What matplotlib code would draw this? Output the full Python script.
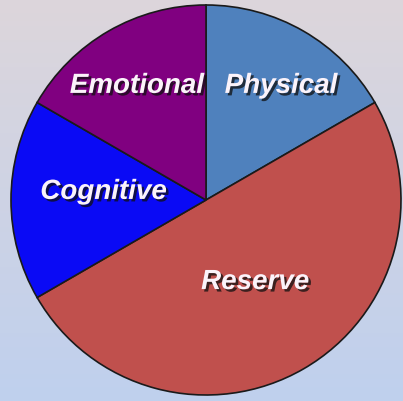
import matplotlib
matplotlib.use("Agg")
import matplotlib.pyplot as plt
import matplotlib.patheffects as pe
import numpy as np
from matplotlib.colors import LinearSegmentedColormap

# slice data, clockwise from 12 o'clock
labels = ["Physical", "Reserve", "Cognitive", "Emotional"]
values = [1, 3, 1, 1]
colors = ["#4F81BD", "#C0504D", "#0A0AF5", "#800080"]
# label placement relative to each wedge's middle angle
label_dist = [0.70, 0.49, 0.527, 0.684]
label_turn = [-3.3, 0.8, -4.5, 1.2]

fig = plt.figure(figsize=(4.03, 4.02), dpi=100)

# background gradient
bg = fig.add_axes([0, 0, 1, 1])
bg_cmap = LinearSegmentedColormap.from_list("bg", ["#BFD0EE", "#DDD6DB"])
bg.imshow(np.linspace(0, 1, 256).reshape(-1, 1), aspect="auto", cmap=bg_cmap,
          origin="lower", extent=[0, 1, 0, 1])
bg.axis("off")

ax = fig.add_axes([0, 0, 1, 1])
ax.patch.set_alpha(0)
wedges, _ = ax.pie(values, colors=colors, startangle=90, counterclock=False,
                   radius=1.0, wedgeprops=dict(edgecolor="#1A1A1A", linewidth=1.2))
ax.set_aspect("auto")
ax.set_xlim(-206 / 195, 197 / 195)
ax.set_ylim(-201 / 195, 201 / 195)
ax.axis("off")

shadow = [pe.SimplePatchShadow(offset=(1.8, -1.8), shadow_rgbFace="#101010", alpha=0.75),
          pe.Normal()]
for w, lab, d, t in zip(wedges, labels, label_dist, label_turn):
    ang = np.deg2rad((w.theta1 + w.theta2) / 2 + t)
    ax.text(d * np.cos(ang), d * np.sin(ang), lab, ha="center", va="center",
            fontsize=20, fontweight="bold", fontstyle="italic",
            family="Liberation Sans", color="#FBF3FA", path_effects=shadow)

fig.savefig("out.png", dpi=100)
